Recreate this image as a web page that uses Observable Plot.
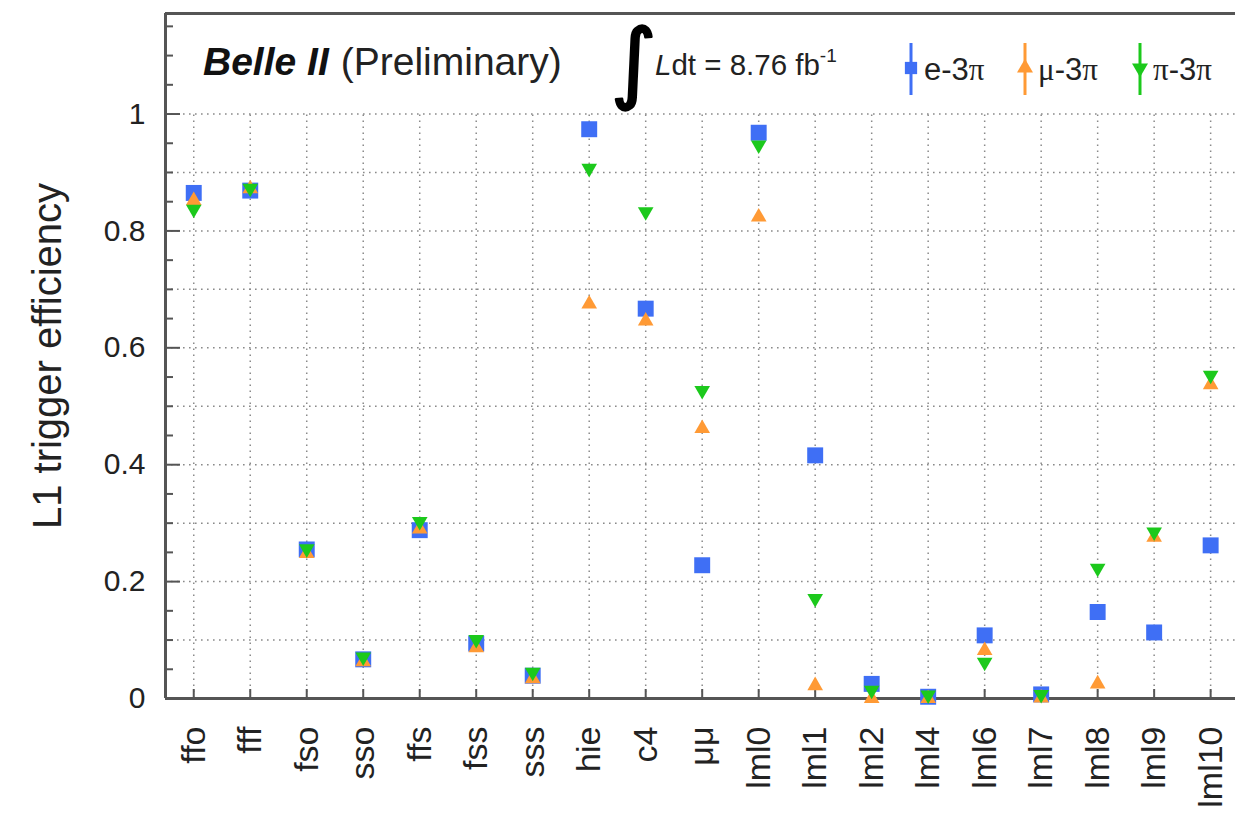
<!DOCTYPE html>
<html>
<head>
<meta charset="utf-8">
<script src="https://cdn.jsdelivr.net/npm/d3@7"></script>
<script src="https://cdn.jsdelivr.net/npm/@observablehq/plot@0.6"></script>
<style>
  body { margin: 0; background: #fff; }
  #wrap { position: relative; width: 1235px; height: 819px; }
  #wrap svg { display: block; }
  #overlay { position: absolute; left: 0; top: 0; pointer-events: none; }
</style>
</head>
<body>
<div id="wrap"></div>
<script>
// L1 trigger categories and efficiencies for the three tau-pair topologies
const categories = ["ffo", "fff", "fso", "sso", "ffs", "fss", "sss", "hie", "c4", "μμ",
  "lml0", "lml1", "lml2", "lml4", "lml6", "lml7", "lml8", "lml9", "lml10"];
const effE3pi  = [0.865, 0.869, 0.255, 0.067, 0.288, 0.094, 0.039, 0.974, 0.667, 0.228,
  0.968, 0.416, 0.025, 0.003, 0.108, 0.007, 0.148, 0.113, 0.262];
const effMu3pi = [0.852, 0.872, 0.248, 0.063, 0.290, 0.087, 0.034, 0.675, 0.646, 0.462,
  0.824, 0.022, 0.000, 0.000, 0.082, 0.001, 0.025, 0.276, 0.537];
const effPi3pi = [0.837, 0.873, 0.256, 0.071, 0.303, 0.101, 0.045, 0.907, 0.833, 0.527,
  0.947, 0.171, 0.014, 0.006, 0.062, 0.007, 0.223, 0.285, 0.553];

const seriesNames = ["e-3", "μ-3", "π-3"];
const seriesColors = ["#3f6ff5", "#ff9a35", "#1cc91c"];

// axis tick positions
const yLabelTicks = [0, 0.2, 0.4, 0.6, 0.8, 1];
const yGridLines = [0.1, 0.2, 0.3, 0.4, 0.5, 0.6, 0.7, 0.8, 0.9, 1.0];
const yMinorTicks = [0.05, 0.1, 0.15, 0.25, 0.3, 0.35, 0.45, 0.5, 0.55, 0.65, 0.7, 0.75,
  0.85, 0.9, 0.95, 1.05, 1.1, 1.15];

const xMin = -0.5, xMax = 18.44, yMax = 1.172;
const rows = categories.map((c, i) => ({i, c, e: effE3pi[i], mu: effMu3pi[i], pi: effPi3pi[i]}));
const idx = rows.map(d => d.i);

const frameColor = "#555";
const gridStyle = {stroke: "#8a8a8a", strokeWidth: 1.5, strokeDasharray: "1.6,4.4"};

const chart = Plot.plot({
  width: 1235,
  height: 819,
  marginLeft: 165,
  marginRight: 0,
  marginTop: 13,
  marginBottom: 121,
  style: {fontFamily: "'Liberation Sans', Arial, sans-serif", background: "white", color: "#222"},
  x: {domain: [xMin, xMax]},
  y: {domain: [0, yMax]},
  marks: [
    // dotted grid, limited to the 0..1 range
    Plot.ruleY(yGridLines, {x1: xMin, x2: xMax, ...gridStyle}),
    Plot.ruleX(idx, {y1: 0, y2: 1, ...gridStyle}),
    // inward tick marks
    Plot.ruleY(yMinorTicks, {x1: xMin, x2: xMin, insetRight: -8, stroke: frameColor, strokeWidth: 2}),
    Plot.ruleY(yLabelTicks, {x1: xMin, x2: xMin, insetRight: -15, stroke: frameColor, strokeWidth: 2}),
    Plot.ruleX(idx, {y1: 0, y2: 0, insetTop: -9, stroke: frameColor, strokeWidth: 2}),
    // frame: bottom, top, left
    Plot.ruleY([0, yMax], {x1: xMin, x2: xMax, stroke: frameColor, strokeWidth: 3}),
    Plot.ruleX([xMin], {y1: 0, y2: yMax, stroke: frameColor, strokeWidth: 3}),
    Plot.axisY({ticks: yLabelTicks, tickSize: 0, tickPadding: 20, fontSize: 30,
      tickFormat: d => String(d), label: null}),
    Plot.axisX({ticks: idx, tickSize: 0, tickPadding: 28, tickRotate: -90, fontSize: 34,
      tickFormat: i => categories[i], label: null}),
    Plot.text(["L1 trigger efficiency"], {frameAnchor: "left", textAnchor: "middle", rotate: -90,
      dx: -117, fontSize: 40, fill: "#222"}),
    // measured efficiencies
    Plot.dot(rows, {x: "i", y: "e", symbol: "square", r: 9, fill: seriesColors[0]}),
    Plot.dot(rows, {x: "i", y: "mu", symbol: "triangle", r: 5.8, fill: seriesColors[1]}),
    Plot.dot(rows, {x: "i", y: "pi", symbol: "triangle", r: 5.8, rotate: 180, fill: seriesColors[2]})
  ]
});

const wrap = document.getElementById("wrap");
wrap.appendChild(chart);

// experiment label, luminosity and legend drawn on top of the plot area
const ov = d3.select(wrap).append("svg")
  .attr("id", "overlay")
  .attr("width", 1235).attr("height", 819)
  .style("font-family", "'Liberation Sans', Arial, sans-serif");

const title = ov.append("text").attr("x", 203).attr("y", 75).attr("font-size", 39).attr("fill", "#111");
title.append("tspan").attr("font-weight", "bold").attr("font-style", "italic").text("Belle II");
title.append("tspan").attr("dx", 12).attr("fill", "#222").text("(Preliminary)");

ov.append("text").attr("x", 611).attr("y", 92).attr("font-size", 88)
  .attr("font-family", "'DejaVu Sans', sans-serif").attr("fill", "#000")
  .attr("stroke", "#000").attr("stroke-width", 2.2).attr("stroke-linejoin", "round").text("∫");
const lum = ov.append("text").attr("x", 655).attr("y", 75).attr("font-size", 29.5).attr("fill", "#222");
lum.append("tspan").attr("font-style", "italic").text("L");
lum.append("tspan").text("dt = 8.76 fb");
lum.append("tspan").attr("font-size", 19).attr("dy", -13).text("-1");

const legendX = [911, 1025, 1140];
const legendSymbols = [d3.symbolSquare, d3.symbolTriangle, d3.symbolTriangle];
seriesNames.forEach((name, k) => {
  const g = ov.append("g").attr("transform", `translate(${legendX[k]},0)`);
  g.append("line").attr("x1", 0).attr("x2", 0).attr("y1", 43).attr("y2", 95)
    .attr("stroke", seriesColors[k]).attr("stroke-width", 3);
  g.append("path")
    .attr("d", d3.symbol(legendSymbols[k], k === 0 ? 150 : 110)())
    .attr("transform", `translate(0,68) rotate(${k === 2 ? 180 : 0})`)
    .attr("fill", seriesColors[k]);
  const t = g.append("text").attr("x", 13).attr("y", 80).attr("font-size", 31).attr("fill", "#222");
  if (name.startsWith("μ")) {
    t.append("tspan").attr("font-family", "'Liberation Serif', serif").text("μ");
    t.append("tspan").text("-3");
  } else if (name.startsWith("π")) {
    t.append("tspan").attr("font-family", "'Liberation Serif', serif").text("π");
    t.append("tspan").text("-3");
  } else {
    t.append("tspan").text(name);
  }
  t.append("tspan").attr("font-family", "'Liberation Serif', serif").text("π");
});
</script>
</body>
</html>
